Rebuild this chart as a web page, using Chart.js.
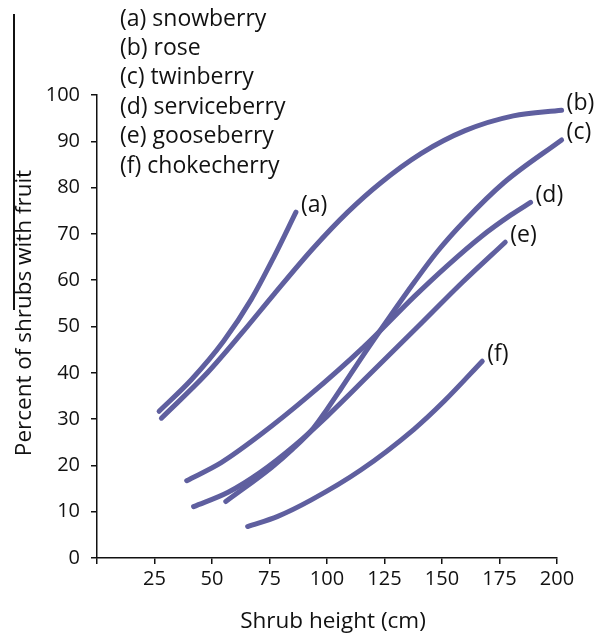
<!DOCTYPE html>
<html>
<head>
<meta charset="utf-8">
<script src="https://cdn.jsdelivr.net/npm/chart.js@4.4.1/dist/chart.umd.min.js"></script>
<style>
  html, body { margin: 0; padding: 0; background: #fff; }
  #wrap { position: relative; width: 611px; height: 637px; }
  #edge { position: absolute; left: 13px; top: 14px; width: 1.5px; height: 296px; background: #111; }
</style>
</head>
<body>
<div id="wrap">
  <canvas id="fruit-chart" width="611" height="637"></canvas>
  <div id="edge"></div>
</div>
<script>
// ---- data ----
const names = ['(a) snowberry', '(b) rose', '(c) twinberry', '(d) serviceberry', '(e) gooseberry', '(f) chokecherry'];
const tags = ['(a)', '(b)', '(c)', '(d)', '(e)', '(f)'];

const snowberryX = [27, 41, 55, 67, 77, 86.5];
const snowberryY = [31.7, 38.5, 46.8, 55.8, 65.1, 74.7];

const roseX = [28, 48, 63, 77, 94, 109, 123, 141, 160, 181, 202];
const roseY = [30.2, 40, 48.6, 57, 66.9, 74.7, 80.9, 87.4, 92.3, 95.5, 96.7];

const twinberryX = [56, 76, 85, 94, 100, 106, 116, 127, 138, 148, 160, 177, 202];
const twinberryY = [12.2, 19.6, 23.5, 28, 32.1, 36.5, 44, 51.9, 59.6, 66.2, 72.9, 81.1, 90.3];

const serviceberryX = [39, 54, 71, 92, 116, 138, 152, 167, 180, 188.5];
const serviceberryY = [16.7, 20.6, 26.6, 35, 45.6, 56.5, 63, 69.4, 74.1, 76.8];

const gooseberryX = [42, 57, 71, 86, 100, 118, 140, 159, 177.5];
const gooseberryY = [11.1, 14.2, 18.5, 24.3, 30.6, 39.4, 50.2, 59.6, 68.2];

const chokecherryX = [65.5, 78.6, 93, 114.7, 137.8, 151, 167.5];
const chokecherryY = [6.8, 9, 12.5, 19, 27.8, 33.9, 42.5];

const xTicks = [0, 25, 50, 75, 100, 125, 150, 175, 200];
const yTicks = [0, 10, 20, 30, 40, 50, 60, 70, 80, 90, 100];

const LINE = '#5f5f9f';
const INK = '#111';
const FONT = "'Open Sans', 'Noto Sans', sans-serif";

const pairs = (xs, ys) => xs.map((x, i) => ({ x, y: ys[i] }));
const series = [
    pairs(snowberryX, snowberryY),
    pairs(roseX, roseY),
    pairs(twinberryX, twinberryY),
    pairs(serviceberryX, serviceberryY),
    pairs(gooseberryX, gooseberryY),
    pairs(chokecherryX, chokecherryY),
];

// text list top-left, axis titles, and the (a)..(f) tags at the curve ends
const annotate = {
    id: 'annotate',
    afterDatasetsDraw(chart) {
        const { ctx } = chart;
        ctx.save();
        ctx.fillStyle = INK;
        ctx.textBaseline = 'middle';
        ctx.textAlign = 'left';
        ctx.font = '23px ' + FONT;
        names.forEach((n, i) => ctx.fillText(n, 120, 19 + 29.4 * i));
        chart.data.datasets.forEach((ds, i) => {
            const pts = chart.getDatasetMeta(i).data;
            const last = pts[pts.length - 1];
            ctx.fillText(tags[i], last.x + 5, last.y - 7);
        });
        ctx.font = '22.5px ' + FONT;
        ctx.textAlign = 'center';
        ctx.fillText('Shrub height (cm)', 333, 622);
        ctx.translate(25, 313);
        ctx.rotate(-Math.PI / 2);
        ctx.fillText('Percent of shrubs with fruit', 0, 0);
        ctx.restore();
    },
};

new Chart(document.getElementById('fruit-chart'), {
    type: 'line',
    data: {
        datasets: series.map((d, i) => ({
            label: names[i],
            data: d,
            borderColor: LINE,
            borderWidth: 5,
            borderCapStyle: 'round',
            pointRadius: 0,
            cubicInterpolationMode: 'monotone',
            fill: false,
            clip: false,
        })),
    },
    options: {
        responsive: false,
        animation: false,
        layout: { padding: { left: 0, top: 95, right: 54, bottom: 0 } },
        plugins: { legend: { display: false }, tooltip: { enabled: false } },
        scales: {
            x: {
                type: 'linear',
                min: 0,
                max: 200,
                afterFit: s => { s.height = 79; },
                afterBuildTicks: s => { s.ticks = xTicks.map(v => ({ value: v })); },
                grid: { drawOnChartArea: false, drawTicks: true, tickLength: 6, color: INK, lineWidth: 1.5 },
                border: { color: INK, width: 1.5 },
                ticks: { color: INK, padding: 3, maxRotation: 0, font: { family: FONT, size: 20 }, callback: v => v === 0 ? '' : v },
            },
            y: {
                type: 'linear',
                min: 0,
                max: 100,
                afterFit: s => { s.width = 97; },
                afterBuildTicks: s => { s.ticks = yTicks.map(v => ({ value: v })); },
                grid: { drawOnChartArea: false, drawTicks: true, tickLength: 6, color: INK, lineWidth: 1.5 },
                border: { color: INK, width: 1.5 },
                ticks: { color: INK, padding: 11, font: { family: FONT, size: 20 } },
            },
        },
    },
    plugins: [annotate],
});
</script>
</body>
</html>
